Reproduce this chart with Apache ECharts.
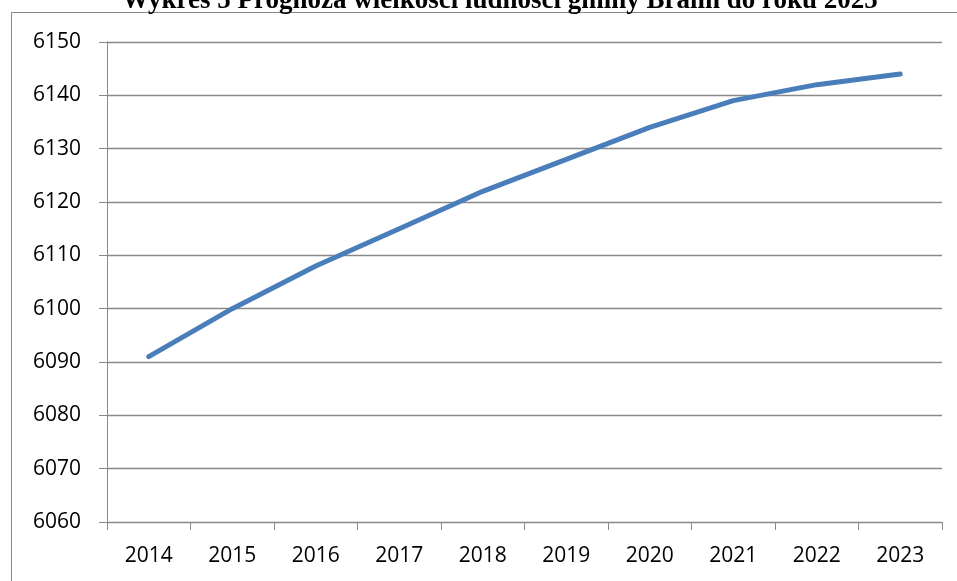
<!DOCTYPE html>
<html>
<head>
<meta charset="utf-8">
<script src="https://cdn.jsdelivr.net/npm/echarts@6/dist/echarts.min.js"></script>
<style>
  html, body { margin: 0; padding: 0; background: #fff; }
  #chart { width: 957px; height: 581px; }
</style>
</head>
<body>
<div id="chart"></div>
<script>
// dane wykresu
const years = ['2014', '2015', '2016', '2017', '2018', '2019', '2020', '2021', '2022', '2023']
const population = [6091, 6100, 6108, 6115, 6122, 6128, 6134, 6139, 6142, 6144]
const yTicks = { min: 6060, max: 6150, step: 10 }
const chartTitle = 'Wykres 5 Prognoza wielkości ludności gminy Bralin do roku 2025'

const chart = echarts.init(document.getElementById('chart'), null, { renderer: 'canvas' })

const gridColor = '#888888'
const labelFont = { fontFamily: 'Open Sans', fontSize: 21, color: '#000' }

chart.setOption({
  animation: false,
  backgroundColor: '#fff',
  title: {
    text: chartTitle,
    left: 117,
    top: -17,
    textStyle: {
      fontFamily: 'Liberation Serif',
      fontWeight: 'bold',
      fontSize: 27,
      color: '#000'
    }
  },
  // ramka wykresu
  graphic: [{
    type: 'rect',
    shape: { x: 11.5, y: 12.5, width: 1000, height: 700 },
    style: { fill: 'none', stroke: gridColor, lineWidth: 1 },
    z: -1
  }],
  grid: {
    left: 107,
    right: 15,
    top: 42,
    bottom: 59,
    containLabel: false
  },
  xAxis: {
    type: 'category',
    data: years,
    boundaryGap: true,
    axisLine: { lineStyle: { color: gridColor, width: 1 } },
    axisTick: { show: true, length: 8, alignWithLabel: false, lineStyle: { color: gridColor } },
    axisLabel: { ...labelFont, margin: 24 },
    splitLine: { show: false }
  },
  yAxis: {
    type: 'value',
    min: yTicks.min,
    max: yTicks.max,
    interval: yTicks.step,
    axisLine: { show: true, lineStyle: { color: gridColor, width: 1 } },
    axisTick: { show: true, length: 8, lineStyle: { color: gridColor } },
    axisLabel: { ...labelFont, margin: 26, formatter: v => String(v) },
    splitLine: { show: true, lineStyle: { color: gridColor, width: 1.3 } }
  },
  series: [{
    type: 'line',
    data: population,
    showSymbol: false,
    symbol: 'none',
    lineStyle: { color: '#4a7ebb', width: 5, cap: 'round', join: 'round' }
  }]
})
</script>
</body>
</html>
